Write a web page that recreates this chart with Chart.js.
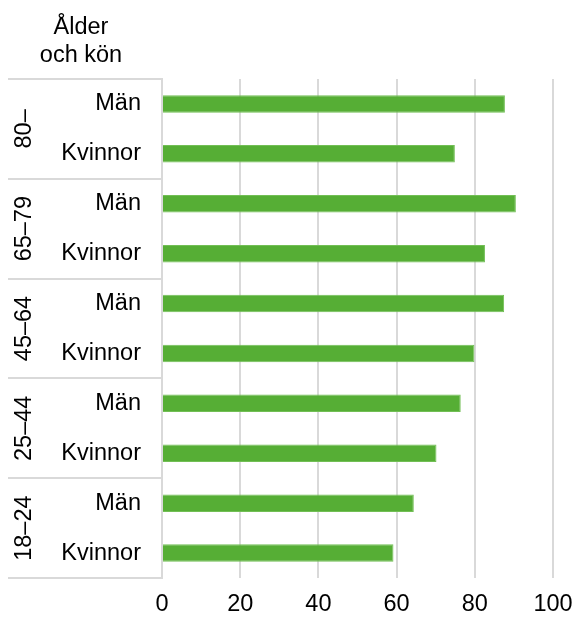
<!DOCTYPE html>
<html>
<head>
<meta charset="utf-8">
<script src="https://cdn.jsdelivr.net/npm/chart.js@4"></script>
<style>
  html, body { margin: 0; padding: 0; background: #fff; }
  #wrap { width: 574px; height: 619px; }
</style>
</head>
<body>
<div id="wrap"><canvas id="ageChart" width="574" height="619"></canvas></div>
<script>
  const ageGroups = ['80–', '65–79', '45–64', '25–44', '18–24'];
  const sexLabels = ['Män', 'Kvinnor'];
  const values = [87.7, 74.9, 90.5, 82.6, 87.5, 79.9, 76.4, 70.2, 64.4, 59.2];
  const xTicks = [0, 20, 40, 60, 80, 100];
  const titleLines = ['Ålder', 'och kön'];

  const labels = [];
  ageGroups.forEach(() => sexLabels.forEach(s => labels.push(s)));

  const font = "'Liberation Sans', Arial, sans-serif";
  const fontSize = 23.5;
  const lineColor = '#d9d9d9';

  // draws the age group column, its separators and the header text
  const groupPlugin = {
    id: 'groups',
    afterDraw(chart) {
      const c = chart.ctx;
      const y = chart.scales.y;
      const area = chart.chartArea;
      const per = sexLabels.length;
      c.save();
      c.strokeStyle = lineColor;
      c.lineWidth = 2;
      const bounds = [area.top];
      for (let g = 1; g < ageGroups.length; g++) {
        bounds.push((y.getPixelForValue(g * per - 1) + y.getPixelForValue(g * per)) / 2);
      }
      bounds.push(area.bottom);
      bounds.forEach(b => {
        c.beginPath();
        c.moveTo(8, Math.round(b));
        c.lineTo(area.left, Math.round(b));
        c.stroke();
      });
      c.fillStyle = '#000';
      c.font = fontSize + 'px ' + font;
      c.textAlign = 'center';
      c.textBaseline = 'middle';
      ageGroups.forEach((g, i) => {
        const mid = (bounds[i] + bounds[i + 1]) / 2;
        c.save();
        c.translate(25, mid);
        c.rotate(-Math.PI / 2);
        c.fillText(g, 0, 0);
        c.restore();
      });
      c.textBaseline = 'alphabetic';
      c.fillText(titleLines[0], 81, 34);
      c.fillText(titleLines[1], 81, 62);
      c.restore();
    }
  };

  new Chart(document.getElementById('ageChart'), {
    type: 'bar',
    data: {
      labels: labels,
      datasets: [{
        data: values,
        backgroundColor: '#56ae35',
        borderColor: '#72bf55',
        borderWidth: 1,
        barPercentage: 0.35,
        categoryPercentage: 1
      }]
    },
    options: {
      indexAxis: 'y',
      responsive: false,
      animation: false,
      layout: { padding: { top: 79, right: 21, left: 0, bottom: 0 } },
      plugins: {
        legend: { display: false },
        tooltip: { enabled: false }
      },
      scales: {
        x: {
          min: 0,
          max: 100,
          afterBuildTicks: s => { s.ticks = xTicks.map(v => ({ value: v })); },
          afterFit: s => { s.height = 41; s.paddingLeft = 0; s.paddingRight = 0; },
          grid: { color: lineColor, lineWidth: 2, drawTicks: false },
          border: { display: false },
          ticks: { color: '#000', font: { family: font, size: fontSize }, padding: 12 }
        },
        y: {
          afterFit: s => { s.width = 162; },
          grid: { display: false, drawTicks: false },
          border: { display: true, color: lineColor, width: 2 },
          ticks: { color: '#000', font: { family: font, size: fontSize }, padding: 21 }
        }
      }
    },
    plugins: [groupPlugin]
  });
</script>
</body>
</html>
